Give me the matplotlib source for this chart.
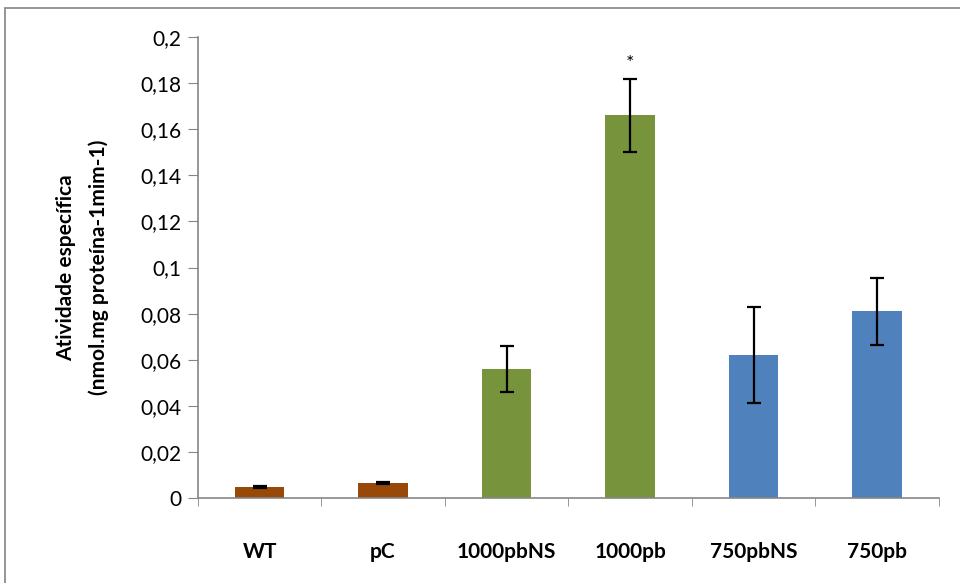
import matplotlib.pyplot as plt
from matplotlib.patches import Rectangle
from matplotlib.ticker import FixedLocator

plt.rcParams['font.family'] = ['Lato', 'DejaVu Sans']

groups = ['WT', 'pC', '1000pbNS', '1000pb', '750pbNS', '750pb']
activity = [0.0048, 0.0065, 0.056, 0.166, 0.062, 0.081]
err = [0.0005, 0.0005, 0.010, 0.016, 0.021, 0.0145]
colors = ['#984807', '#984807', '#77933C', '#77933C', '#4F81BD', '#4F81BD']
yticks = [0, 0.02, 0.04, 0.06, 0.08, 0.1, 0.12, 0.14, 0.16, 0.18, 0.2]
ytick_labels = ['0', '0,02', '0,04', '0,06', '0,08', '0,1', '0,12', '0,14', '0,16', '0,18', '0,2']
star_group = '1000pb'

fig = plt.figure(figsize=(9.6, 5.83), dpi=100)
ax = fig.add_axes([0.206, 0.1458, 0.772, 0.7907])

x = list(range(len(groups)))
ax.bar(x, activity, width=0.4, color=colors, zorder=2)
ax.errorbar(x, activity, yerr=err, fmt='none', ecolor='black',
            elinewidth=1.6, capsize=5, capthick=1.6, zorder=3)

i = groups.index(star_group)
ax.text(x[i], activity[i] + err[i] + 0.003, '*', ha='center', va='bottom',
        fontsize=14)

ax.set_xlim(-0.5, len(groups) - 0.5)
ax.set_ylim(0, 0.2)
ax.set_yticks(yticks)
ax.set_yticklabels(ytick_labels)
ax.set_xticks(x)
ax.set_xticklabels(groups, fontweight='bold')
ax.xaxis.set_minor_locator(FixedLocator([k - 0.5 for k in range(len(groups) + 1)]))
ax.tick_params(axis='x', which='major', length=0, pad=32, labelsize=15)
ax.tick_params(axis='x', which='minor', length=6, color='#868686', direction='out')
ax.tick_params(axis='y', length=7, color='#868686', labelsize=15, pad=5)

for side in ['top', 'right']:
    ax.spines[side].set_visible(False)
for side in ['left', 'bottom']:
    ax.spines[side].set_color('#868686')
    ax.spines[side].set_linewidth(1.2)

ax.set_ylabel('Atividade específica\n(nmol.mg proteína-1mim-1)', fontweight='bold',
              fontsize=15, labelpad=22, linespacing=1.75)

fig.patches.append(Rectangle((5 / 960, -0.1), 1.1, 1 - 8 / 583 + 0.1,
                             transform=fig.transFigure, fill=False,
                             edgecolor='#8c8c8c', linewidth=1.3))

fig.savefig('out.png', dpi=100)
